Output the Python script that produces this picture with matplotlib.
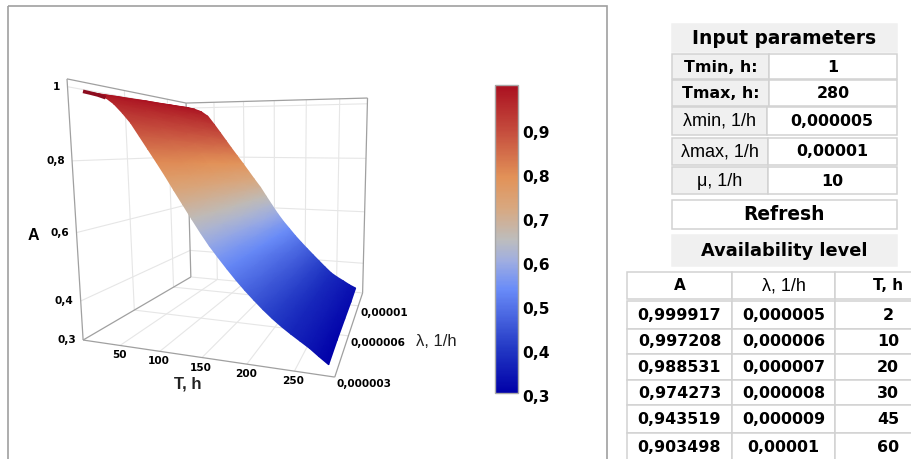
import numpy as np
import matplotlib
matplotlib.use('Agg')
import matplotlib.pyplot as plt
from matplotlib.cm import ScalarMappable
from matplotlib.colors import LinearSegmentedColormap, Normalize
from matplotlib.patches import Rectangle
from matplotlib.transforms import ScaledTranslation

# surface, one list per lambda row
lam_rows = [3.8e-6, 5.7e-6, 7.65e-6, 9.6e-6, 1.15e-5]
T_rows = [
    [1, 10, 20, 30, 40, 50, 60, 70, 80, 90, 100, 110, 120, 130, 140, 150, 160, 170, 180, 190, 200, 210, 220, 230, 240, 250, 260, 270, 280],
    [4, 13.5, 24, 34, 44.25, 54, 64, 74, 83.5, 93.5, 103, 113, 123, 133, 142.5, 152.5, 162, 172, 182, 192, 201.5, 211.5, 221, 231, 241, 251, 260.5, 270.5, 280],
    [7, 17, 27.5, 38, 48.5, 58.5, 68, 77.5, 87, 97, 106.5, 116, 126, 135.5, 145, 155, 164.5, 174, 184, 193.5, 203, 213, 222.5, 232, 242, 251.5, 261, 271, 280.5],
    [10, 20.5, 31, 42, 52.75, 63, 72, 81, 90.5, 100.5, 110, 119, 129, 138, 147.5, 157.5, 167, 176, 186, 195, 204.5, 214.5, 224, 233, 243, 252, 261.5, 271.5, 281],
    [13, 24, 35, 46, 57, 67, 76, 85, 94, 104, 113, 122, 132, 141, 150, 160, 169, 178, 188, 197, 206, 216, 225, 234, 244, 253, 262, 272, 281],
]
A_rows = [
    [.995, .990, .984, .976, .959, .935, .908, .873, .838, .803, .767, .729, .692, .655, .619, .585, .555, .526, .498, .472, .448, .425, .404, .385, .368, .352, .336, .317, .299],
    [.996, .990, .983, .973, .952, .926, .898, .865, .832, .798, .763, .728, .692, .656, .621, .587, .557, .529, .501, .476, .453, .429, .408, .389, .371, .355, .340, .322, .306],
    [.997, .990, .983, .970, .945, .917, .889, .857, .825, .792, .760, .726, .692, .657, .623, .589, .560, .533, .505, .480, .457, .434, .413, .393, .373, .358, .344, .328, .314],
    [.997, .991, .982, .966, .937, .907, .879, .848, .819, .787, .756, .725, .692, .658, .625, .590, .562, .536, .508, .484, .462, .438, .417, .396, .376, .361, .348, .333, .321],
    [.998, .991, .981, .963, .930, .898, .869, .840, .812, .781, .752, .723, .692, .659, .627, .592, .564, .539, .511, .488, .466, .442, .421, .400, .378, .364, .352, .338, .328],
]

T_ticks = [50, 100, 150, 200, 250]
lam_ticks = [3e-6, 6.4e-6, 1e-5]
lam_labels = ['0,000003', '0,000006', '0,00001']
A_ticks = [0.3, 0.415, 0.61, 0.806, 1]
A_labels = ['0,3', '0,4', '0,6', '0,8', '1']
cb_ticks = [0.3, 0.4, 0.5, 0.6, 0.7, 0.8, 0.9]
cb_labels = ['0,3', '0,4', '0,5', '0,6', '0,7', '0,8', '0,9']

input_labels = ['Tmin, h:', 'Tmax, h:', '\u03bbmin, 1/h', '\u03bbmax, 1/h', '\u03bc, 1/h']
input_values = ['1', '280', '0,000005', '0,00001', '10']
level_header = ['A', '\u03bb, 1/h', 'T, h']
level_A = ['0,999917', '0,997208', '0,988531', '0,974273', '0,943519', '0,903498']
level_lam = ['0,000005', '0,000006', '0,000007', '0,000008', '0,000009', '0,00001']
level_T = ['2', '10', '20', '30', '45', '60']

T0, T1 = 1, 290
L0, L1 = 3e-6, 1.2e-5
A0, A1 = 0.3, 1.02

W, H = 912, 459
BOX = '#a0a0a0'
GRID = '#e6e6e6'
CELL = '#d2d2d2'
HEAD = '#f0f0f0'

cmap = LinearSegmentedColormap.from_list('avail', [
    (0.0, '#0000a8'), (0.143, '#2238c4'), (0.338, '#6a8cf8'), (0.43, '#a0aee0'),
    (0.497, '#bdbdbd'), (0.6, '#d8a880'), (0.7, '#e29258'), (0.857, '#c44a3c'), (1.0, '#aa1020')])
norm = Normalize(0.3, 1.0)

fig = plt.figure(figsize=(W / 100, H / 100), dpi=100)

# everything but the colour bar sits in one axes in picture pixels
tb = fig.add_axes([0, 0, 1, 1])
tb.set_xlim(0, W)
tb.set_ylim(H, 0)
tb.axis('off')
tb.add_patch(Rectangle((8, 6), 599, 470, fc='none', ec='#a0a0a0', lw=1.2))

# perspective camera fitted to the box corners of the picture
corners = [(0, 0, 0, 82, 340), (1, 0, 0, 335, 377), (1, 1, 0, 362, 293), (0, 1, 0, 192, 277),
           (0, 0, 1, 68, 79), (0, 1, 1, 185, 103), (1, 1, 1, 368, 98)]
eqs, rhs = [], []
for x, y, z, u, v in corners:
    eqs.append([x, y, z, 1, 0, 0, 0, 0, -u * x, -u * y, -u * z])
    rhs.append(u)
    eqs.append([0, 0, 0, 0, x, y, z, 1, -v * x, -v * y, -v * z])
    rhs.append(v)
cam = np.append(np.linalg.lstsq(np.array(eqs, float), np.array(rhs, float), rcond=None)[0], 1).reshape(3, 4)


def project(t, la, a):
    t, la, a = np.broadcast_arrays(np.asarray(t, float), np.asarray(la, float), np.asarray(a, float))
    x = (t - T0) / (T1 - T0)
    y = (la - L0) / (L1 - L0)
    z = (a - A0) / (A1 - A0)
    w = cam[2, 0] * x + cam[2, 1] * y + cam[2, 2] * z + cam[2, 3]
    u = (cam[0, 0] * x + cam[0, 1] * y + cam[0, 2] * z + cam[0, 3]) / w
    v = (cam[1, 0] * x + cam[1, 1] * y + cam[1, 2] * z + cam[1, 3]) / w
    return u, v


def line3(t, la, a, color=GRID, lw=0.8, zorder=1):
    u, v = project(t, la, a)
    tb.plot(u, v, color=color, lw=lw, zorder=zorder, solid_capstyle='butt')


# grid on floor and walls
for t in T_ticks:
    line3([t, t], [L0, L1], [A0, A0])
    line3([t, t], [L1, L1], [A0, A1])
for la in lam_ticks[1:]:
    line3([T0, T1], [la, la], [A0, A0])
    line3([T0, T0], [la, la], [A0, A1])
for a in A_ticks[1:]:
    line3([T0, T0], [L0, L1], [a, a])
    line3([T0, T1], [L1, L1], [a, a])
line3([T0, T1], [L1, L1], [A0, A0])

# box edges
for xs, ys, zs in [([T0, T1], [L0, L0], [A0, A0]), ([T1, T1], [L0, L1], [A0, A0]),
                   ([T0, T0], [L0, L1], [A0, A0]), ([T0, T0], [L0, L0], [A0, A1]),
                   ([T0, T0], [L1, L1], [A0, A1]), ([T1, T1], [L1, L1], [A0, A1]),
                   ([T0, T0], [L0, L1], [A1, A1]), ([T0, T1], [L1, L1], [A1, A1])]:
    line3(xs, ys, zs, color=BOX, lw=0.9, zorder=2)

# the surface, smooth between the read points
Z = np.array(A_rows)
Y = np.array([[la] * Z.shape[1] for la in lam_rows])
U, V = project(np.array(T_rows), Y, Z)
tb.pcolormesh(U, V, Z, shading='gouraud', cmap=cmap, norm=norm, zorder=3)
# dark strip at the start of the near edge
line3(T_rows[0][:4], lam_rows[0], A_rows[0][:4], color='#8c0c1e', lw=2.6, zorder=4)

tick_font = dict(fontsize=7.6, fontweight='bold', family='DejaVu Sans', zorder=5)
for t in T_ticks:
    u, v = project(t, L0, A0)
    tb.text(u - 1, v + 10, str(t), ha='center', va='center', **tick_font)
for la, s in zip(lam_ticks, lam_labels):
    u, v = project(T1, la, A0)
    tb.text(u + 2, v + 7, s, ha='left', va='center', **tick_font)
for a, s in zip(A_ticks, A_labels):
    u, v = project(T0, L0, a)
    tb.text(u - 7, v, s, ha='right', va='center', **tick_font)

tb.text(188, 384, 'T, h', ha='center', va='center', fontsize=12, family='Liberation Sans', fontweight='bold', color='#222222')
tb.text(33, 235, 'A', ha='center', va='center', fontsize=11.5, family='Liberation Sans', fontweight='bold')
tb.text(436, 342, '\u03bb, 1/h', ha='center', va='center', fontsize=12, family='Liberation Sans', color='#222222')


def cell(x0, y0, x1, y1, text, fill='white', bold=True, size=11.4, edge=CELL):
    tb.add_patch(Rectangle((x0, y0), x1 - x0, y1 - y0, fc=fill, ec=edge, lw=1.1))
    if bold:
        tb.text((x0 + x1) / 2, (y0 + y1) / 2 + 0.5, text, ha='center', va='center',
                fontsize=size, fontweight='bold', family='DejaVu Sans')
    else:
        tb.text((x0 + x1) / 2, (y0 + y1) / 2 + 0.5, text, ha='center', va='center',
                fontsize=13, family='Liberation Sans')


cell(672, 24, 897, 52, 'Input parameters', HEAD, size=13.4, edge=HEAD)
input_y = [(54, 79), (80, 106), (107, 135), (138, 165), (167, 194)]
input_split = [769, 769, 767, 768, 768]
for i in range(5):
    y0, y1 = input_y[i]
    cell(672, y0, input_split[i], y1, input_labels[i], HEAD, bold=i < 2)
    cell(input_split[i], y0, 897, y1, input_values[i])
cell(672, 200, 897, 229, 'Refresh', size=13.4)
cell(672, 235, 897, 266, 'Availability level', HEAD, size=12.8, edge=HEAD)

col_x = [627, 732, 835, 940]
cell(col_x[0], 272, col_x[1], 299, level_header[0], size=11)
cell(col_x[1], 272, col_x[2], 299, level_header[1], bold=False)
tb.add_patch(Rectangle((col_x[2], 272), col_x[3] - col_x[2], 27, fc='white', ec=CELL, lw=1.1))
tb.text(888, 286, level_header[2], ha='center', va='center', fontsize=11, fontweight='bold')
row_y = [301, 329, 354, 380, 405, 433, 462]
for i in range(6):
    cell(col_x[0], row_y[i], col_x[1], row_y[i + 1], level_A[i])
    cell(col_x[1], row_y[i], col_x[2], row_y[i + 1], level_lam[i])
    tb.add_patch(Rectangle((col_x[2], row_y[i]), col_x[3] - col_x[2], row_y[i + 1] - row_y[i], fc='white', ec=CELL, lw=1.1))
    tb.text(888, (row_y[i] + row_y[i + 1]) / 2 + 0.5, level_T[i], ha='center', va='center',
            fontsize=11.4, fontweight='bold')

# colour bar
cax = fig.add_axes([495 / W, 1 - 393 / H, 23 / W, 308 / H])
cb = fig.colorbar(ScalarMappable(norm=norm, cmap=cmap), cax=cax)
cb.set_ticks(cb_ticks, labels=cb_labels)
cb.ax.tick_params(length=0, pad=3)
down = ScaledTranslation(0, -2 / 72, fig.dpi_scale_trans)
for lab in cb.ax.get_yticklabels():
    lab.set_fontsize(11.2)
    lab.set_fontweight('bold')
    lab.set_transform(lab.get_transform() + down)
cb.outline.set_edgecolor('#a8a8a8')
cb.outline.set_linewidth(1)

fig.savefig('out.png', dpi=100)
